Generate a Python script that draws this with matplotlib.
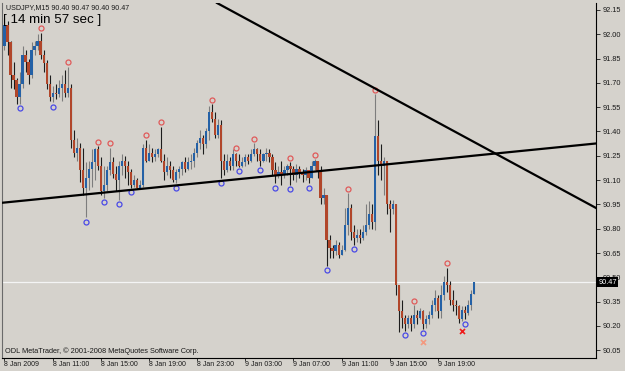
import matplotlib
matplotlib.use("Agg")
import matplotlib.pyplot as plt
import numpy as np

# header / footer texts
symbol_text = "USDJPY,M15 90.40 90.47 90.40 90.47"
timer_text = "[ 14 min 57 sec ]"
copyright_text = "ODL MetaTrader, \u00a9 2001-2008 MetaQuotes Software Corp."

# M15 bars, 8 Jan 2009 07:00 onwards (open of bar n = close of bar n-1)
first_open = 91.93
close = [92.06, 91.95, 91.75, 91.72, 91.61, 91.69, 91.87, 91.83, 91.75, 91.90,
         91.93, 91.96, 91.87, 91.82, 91.69, 91.61, 91.64, 91.63, 91.67, 91.69,
         91.64, 91.67, 91.35, 91.27, 91.30, 91.16, 91.05, 91.11, 91.17, 91.21,
         91.29, 91.19, 91.03, 91.07, 91.16, 91.21, 91.14, 91.10, 91.19, 91.22,
         91.19, 91.15, 91.07, 91.10, 91.05, 91.07, 91.30, 91.22, 91.27, 91.24,
         91.26, 91.29, 91.22, 91.15, 91.19, 91.16, 91.10, 91.15, 91.17, 91.21,
         91.17, 91.21, 91.22, 91.27, 91.33, 91.36, 91.32, 91.40, 91.52, 91.48,
         91.38, 91.44, 91.22, 91.16, 91.22, 91.19, 91.26, 91.22, 91.19, 91.21,
         91.24, 91.22, 91.26, 91.29, 91.26, 91.22, 91.26, 91.27, 91.24, 91.16,
         91.13, 91.15, 91.13, 91.16, 91.19, 91.17, 91.13, 91.17, 91.15, 91.13,
         91.16, 91.11, 91.19, 91.22, 91.15, 90.99, 91.01, 90.73, 90.68, 90.66,
         90.70, 90.64, 90.67, 90.82, 90.93, 90.78, 90.74, 90.76, 90.74, 90.78,
         90.82, 90.89, 90.84, 91.37, 91.22, 91.19, 91.22, 90.95, 90.92, 90.95,
         90.45, 90.29, 90.25, 90.21, 90.25, 90.21, 90.27, 90.25, 90.29, 90.21,
         90.24, 90.27, 90.33, 90.37, 90.29, 90.39, 90.47, 90.45, 90.36, 90.33,
         90.32, 90.24, 90.30, 90.28, 90.33, 90.40, 90.47]
high = [92.10, 92.08, 91.96, 91.83, 91.73, 91.77, 91.93, 91.90, 91.85, 91.95,
        91.96, 92.00, 92.01, 91.90, 91.84, 91.75, 91.68, 91.69, 91.72, 91.75,
        91.78, 91.80, 91.69, 91.41, 91.36, 91.33, 91.30, 91.21, 91.22, 91.29,
        91.30, 91.31, 91.24, 91.19, 91.19, 91.30, 91.24, 91.19, 91.22, 91.26,
        91.25, 91.22, 91.17, 91.13, 91.11, 91.10, 91.32, 91.35, 91.32, 91.30,
        91.29, 91.30, 91.43, 91.26, 91.24, 91.22, 91.19, 91.17, 91.19, 91.22,
        91.24, 91.24, 91.26, 91.30, 91.35, 91.41, 91.38, 91.42, 91.56, 91.57,
        91.52, 91.48, 91.47, 91.26, 91.26, 91.24, 91.29, 91.27, 91.26, 91.24,
        91.26, 91.26, 91.29, 91.33, 91.30, 91.29, 91.27, 91.30, 91.29, 91.26,
        91.21, 91.19, 91.22, 91.19, 91.20, 91.21, 91.19, 91.20, 91.19, 91.17,
        91.18, 91.16, 91.22, 91.23, 91.22, 91.19, 91.05, 91.01, 90.76, 90.70,
        90.73, 90.72, 90.70, 90.93, 91.02, 90.95, 90.82, 90.80, 90.80, 90.82,
        90.95, 90.97, 90.95, 91.63, 91.47, 91.32, 91.24, 91.22, 90.98, 90.98,
        90.95, 90.45, 90.36, 90.27, 90.27, 90.27, 90.33, 90.30, 90.31, 90.30,
        90.27, 90.29, 90.36, 90.42, 90.39, 90.45, 90.51, 90.56, 90.48, 90.42,
        90.36, 90.33, 90.32, 90.32, 90.36, 90.42, 90.47]
low = [91.90, 91.87, 91.67, 91.66, 91.57, 91.57, 91.67, 91.77, 91.69, 91.73,
       91.87, 91.90, 91.85, 91.77, 91.66, 91.59, 91.58, 91.60, 91.61, 91.59,
       91.61, 91.61, 91.30, 91.24, 91.22, 91.09, 91.01, 90.87, 91.04, 91.06,
       91.10, 91.16, 91.01, 90.99, 91.03, 91.13, 91.11, 91.03, 90.98, 91.13,
       91.11, 91.07, 91.05, 91.06, 91.05, 91.05, 91.06, 91.21, 91.22, 91.21,
       91.22, 91.24, 91.21, 91.10, 91.13, 91.11, 91.09, 91.08, 91.11, 91.13,
       91.15, 91.16, 91.17, 91.18, 91.24, 91.29, 91.26, 91.30, 91.35, 91.46,
       91.36, 91.36, 91.11, 91.13, 91.15, 91.16, 91.16, 91.19, 91.18, 91.18,
       91.19, 91.20, 91.21, 91.25, 91.22, 91.19, 91.21, 91.22, 91.21, 91.13,
       91.08, 91.11, 91.07, 91.11, 91.13, 91.07, 91.10, 91.09, 91.11, 91.09,
       91.10, 91.08, 91.11, 91.16, 91.11, 90.95, 90.95, 90.57, 90.62, 90.62,
       90.64, 90.62, 90.64, 90.66, 90.76, 90.73, 90.70, 90.72, 90.71, 90.73,
       90.76, 90.80, 90.80, 90.79, 91.13, 91.10, 91.01, 90.89, 90.78, 90.89,
       90.39, 90.16, 90.19, 90.17, 90.19, 90.17, 90.19, 90.21, 90.24, 90.18,
       90.19, 90.21, 90.25, 90.29, 90.25, 90.25, 90.36, 90.41, 90.33, 90.29,
       90.27, 90.22, 90.23, 90.24, 90.27, 90.30, 90.40]

# fractal bars (indices)
fractal_up = [12, 21, 31, 35, 47, 52, 69, 77, 83, 95, 103, 114, 123, 136, 147]
fractal_down = [5, 16, 27, 33, 38, 42, 57, 72, 78, 85, 90, 95, 101, 107, 116,
                133, 139, 153]

# extra signal crosses (bar, price)
red_cross = (152, 90.17)
pink_cross = (139, 90.10)

# trendlines, two points each (bar, price)
trend1 = [(-0.83, 90.96), (196.5, 91.326)]
trend2 = [(70.9, 92.19), (196.5, 90.928)]

last_price = 90.47
price_ticks = [90.05, 90.20, 90.35, 90.50, 90.65, 90.80, 90.95, 91.10,
               91.25, 91.40, 91.55, 91.70, 91.85, 92.00, 92.15]
time_ticks = [0, 16, 32, 48, 64, 80, 96, 112, 128, 144]
time_labels = ["8 Jan 2009", "8 Jan 11:00", "8 Jan 15:00", "8 Jan 19:00",
               "8 Jan 23:00", "9 Jan 03:00", "9 Jan 07:00", "9 Jan 11:00",
               "9 Jan 15:00", "9 Jan 19:00"]

bg = "#D5D2CC"
bull_body = "#2461A6"
bear_body = "#B1462A"
plt.rcParams['font.family'] = ['Liberation Sans', 'DejaVu Sans']

fig = plt.figure(figsize=(6.25, 3.71), dpi=100, facecolor=bg)
ax = fig.add_axes([2/625, 13/371, 594/625, 355/371], facecolor=bg)

close = np.array(close)
high = np.array(high)
low = np.array(low)
opens = np.concatenate([[first_open], close[:-1]])
idx = np.arange(len(close))
up = close >= opens

# candles
wick_cols = np.where(up, "#7d7d7d", "#1c1c1c")
ax.vlines(idx, low, high, colors=wick_cols, linewidth=0.8, zorder=2)
body_low = np.minimum(opens, close)
body_h = np.maximum(np.abs(close - opens), 0.004)
ax.bar(idx, body_h, bottom=body_low, width=0.75,
       color=np.where(up, bull_body, bear_body), linewidth=0, zorder=3)

# fractals
ax.plot(fractal_up, high[fractal_up] + 0.026, 'o', ms=3.6, mfc='none',
        mec="#E05A5A", mew=0.9, zorder=4)
ax.plot(fractal_down, low[fractal_down] - 0.026, 'o', ms=3.6, mfc='none',
        mec="#4A4AE6", mew=0.9, zorder=4)
ax.plot(*red_cross, 'x', ms=3.6, mec="#EE1C1C", mew=1.2, zorder=4)
ax.plot(*pink_cross, 'x', ms=3.6, mec="#F39A80", mew=1.2, zorder=4)

# current price line and trendlines
ax.axhline(last_price, color="#F4F4F4", linewidth=0.9, zorder=1)
ax.axline(trend1[0], trend1[1], color="black", linewidth=1.6, zorder=5)
ax.axline(trend2[0], trend2[1], color="black", linewidth=1.6, zorder=5)

ax.set_xlim(-0.83, 196.5)
ax.set_ylim(90.002, 92.193)

# axes decoration MT4 style
ax.spines['top'].set_visible(False)
ax.spines['left'].set_color("#6a6a6a")
ax.spines['right'].set_color("black")
ax.spines['bottom'].set_color("black")
for s in ['left', 'right', 'bottom']:
    ax.spines[s].set_linewidth(0.8)

ax.yaxis.tick_right()
ax.set_yticks(price_ticks)
ax.set_yticklabels([f"{p:.2f}" for p in price_ticks])
ax.tick_params(axis='y', direction='out', length=3, width=0.6, pad=1.5,
               labelsize=5.3, colors="#1a1a1a")
ax.set_xticks(time_ticks)
ax.set_xticklabels(time_labels)
ax.tick_params(axis='x', direction='out', length=2, width=0.6, pad=0.5,
               labelsize=5.0, colors="#1a1a1a")
for lbl in ax.get_xticklabels():
    lbl.set_horizontalalignment('left')

# current price tag
ax.text(1.004, last_price, f"{last_price:.2f}", transform=ax.get_yaxis_transform(),
        color="white", fontsize=5.3, va='center', ha='left', clip_on=False,
        bbox=dict(facecolor="black", edgecolor="none", pad=0.9), zorder=10)

fig.text(6/625, 1 - 8/371, symbol_text, fontsize=5.1, va='center', ha='left',
         color="#1a1a1a")
fig.text(3/625, 1 - 20/371, timer_text, fontsize=9.6, va='center', ha='left',
         color="black")
fig.text(5/625, 1 - 351/371, copyright_text, fontsize=5.3, va='center',
         ha='left', color="#1a1a1a")

fig.savefig("out.png", dpi=100, facecolor=bg)
